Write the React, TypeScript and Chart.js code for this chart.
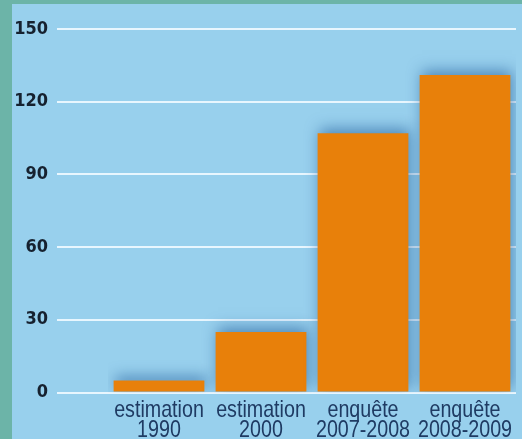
import React, { useEffect, useRef } from "react";
import { Chart, registerables } from "chart.js";

Chart.register(...registerables);

const categories: string[][] = [
  ["estimation", "1990"],
  ["estimation", "2000"],
  ["enquête", "2007-2008"],
  ["enquête", "2008-2009"],
];
const values: number[] = [5, 25, 107, 131];
const yTicks: number[] = [0, 30, 60, 90, 120, 150];

const barShadow = {
  id: "barShadow",
  beforeDatasetsDraw(chart: any) {
    const ctx = chart.ctx;
    ctx.save();
    ctx.shadowColor = "rgba(25, 85, 150, 0.6)";
    ctx.shadowBlur = 14;
    ctx.shadowOffsetX = 2;
    ctx.shadowOffsetY = -4;
  },
  afterDatasetsDraw(chart: any) {
    chart.ctx.restore();
  },
};

// Draws the category labels of the x scale as condensed (horizontally scaled) text
const condensedXLabels = {
  id: "condensedXLabels",
  afterDraw(chart: any) {
    const ctx = chart.ctx;
    const xs = chart.scales.x;
    const labels = chart.data.labels as string[][];
    const squeeze = 0.82;
    ctx.save();
    ctx.font = "24px 'Liberation Sans', Arial, sans-serif";
    ctx.fillStyle = "#1f3b63";
    ctx.textAlign = "center";
    ctx.textBaseline = "alphabetic";
    labels.forEach((lines, i) => {
      const cx = xs.getPixelForTick(i);
      lines.forEach((line, j) => {
        ctx.save();
        ctx.translate(cx, xs.top + 24.5 + j * 20);
        ctx.scale(squeeze, 1);
        ctx.fillText(line, 0, 0);
        ctx.restore();
      });
    });
    ctx.restore();
  },
};

export default function App() {
  const ref = useRef<HTMLCanvasElement | null>(null);

  useEffect(() => {
    if (!ref.current) return;
    const chart = new Chart(ref.current, {
      type: "bar",
      data: {
        labels: categories,
        datasets: [
          {
            data: values,
            backgroundColor: "#e8800a",
            borderWidth: 0,
            categoryPercentage: 1,
            barPercentage: 0.89,
          },
        ],
      },
      options: {
        animation: false,
        responsive: false,
        maintainAspectRatio: false,
        layout: { padding: { top: 25, right: 6, left: 0, bottom: 0 } },
        plugins: {
          legend: { display: false },
          tooltip: { enabled: false },
        },
        scales: {
          x: {
            grid: { display: false },
            border: { display: false },
            ticks: { display: false },
            afterFit: (s: any) => {
              s.height = 46.5;
              s.paddingLeft = 0;
              s.paddingRight = 0;
            },
          },
          y: {
            min: 0,
            max: 150,
            afterBuildTicks: (s: any) => {
              s.ticks = yTicks.map((v) => ({ value: v }));
            },
            grid: {
              color: "rgba(236, 248, 255, 0.95)",
              lineWidth: 2,
              drawTicks: true,
              tickLength: 51,
            },
            border: { display: false },
            ticks: {
              color: "#16212f",
              padding: 9,
              font: {
                family: "'DejaVu Sans Condensed', 'Liberation Sans', sans-serif",
                size: 18,
                weight: "bold",
              },
            },
            afterFit: (s: any) => {
              s.width = 96;
            },
          },
        },
      },
      plugins: [barShadow, condensedXLabels],
    });
    return () => chart.destroy();
  }, []);

  return (
    <div
      style={{
        position: "fixed",
        left: 0,
        top: 0,
        width: 522,
        height: 439,
        background: "rgb(108, 180, 168)",
      }}
    >
      <div
        style={{
          position: "absolute",
          left: 12,
          top: 4,
          width: 510,
          height: 435,
          background: "rgb(152, 208, 237)",
        }}
      >
        <canvas ref={ref} width={510} height={435} style={{ display: "block" }} />
      </div>
    </div>
  );
}
